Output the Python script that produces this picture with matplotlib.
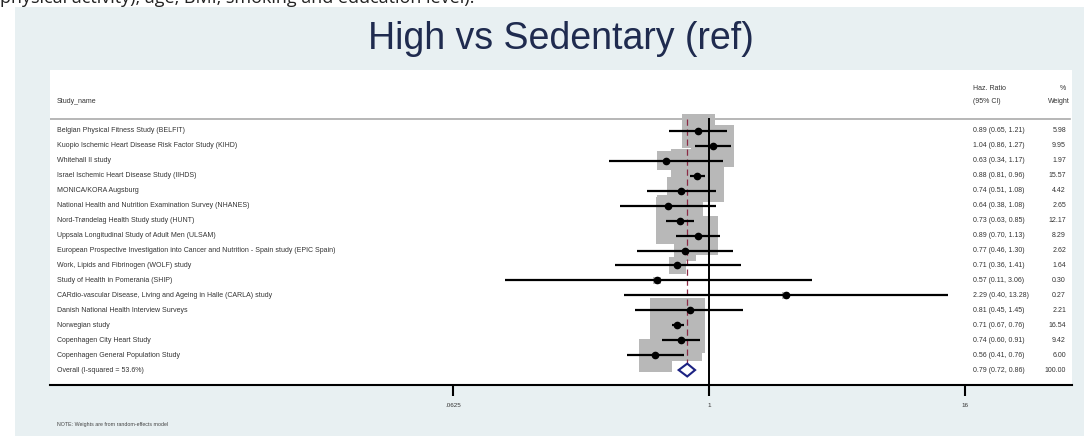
import matplotlib
matplotlib.use("Agg")
import matplotlib.pyplot as plt
from matplotlib.patches import Rectangle, Polygon
from matplotlib.ticker import FixedLocator, FixedFormatter

plt.rcParams['font.family'] = ['Liberation Sans', 'DejaVu Sans']

# ---------------- data ----------------
study_names = [
    "Belgian Physical Fitness Study (BELFIT)",
    "Kuopio Ischemic Heart Disease Risk Factor Study (KIHD)",
    "Whitehall II study",
    "Israel Ischemic Heart Disease Study (IIHDS)",
    "MONICA/KORA Augsburg",
    "National Health and Nutrition Examination Survey (NHANES)",
    "Nord-Trøndelag Health Study study (HUNT)",
    "Uppsala Longitudinal Study of Adult Men (ULSAM)",
    "European Prospective Investigation into Cancer and Nutrition - Spain study (EPIC Spain)",
    "Work, Lipids and Fibrinogen (WOLF) study",
    "Study of Health in Pomerania (SHIP)",
    "CARdio-vascular Disease, Living and Ageing in Halle (CARLA) study",
    "Danish National Health Interview Surveys",
    "Norwegian study",
    "Copenhagen City Heart Study",
    "Copenhagen General Population Study",
]
hr = [0.89, 1.04, 0.63, 0.88, 0.74, 0.64, 0.73, 0.89, 0.77, 0.71, 0.57, 2.29, 0.81, 0.71, 0.74, 0.56]
ci_lo = [0.65, 0.86, 0.34, 0.81, 0.51, 0.38, 0.63, 0.70, 0.46, 0.36, 0.11, 0.40, 0.45, 0.67, 0.60, 0.41]
ci_hi = [1.21, 1.27, 1.17, 0.96, 1.08, 1.08, 0.85, 1.13, 1.30, 1.41, 3.06, 13.28, 1.45, 0.76, 0.91, 0.76]
weights = [5.98, 9.95, 1.97, 15.57, 4.42, 2.65, 12.17, 8.29, 2.62, 1.64, 0.30, 0.27, 2.21, 16.54, 9.42, 6.00]

overall_label = "Overall (I-squared = 53.6%)"
overall_hr = 0.79
overall_lo = 0.72
overall_hi = 0.86
overall_weight = 100.00

tick_values = [0.0625, 1, 16]
tick_labels = [".0625", "1", "16"]

title = "High vs Sedentary (ref)"
top_caption = "physical activity), age, BMI, smoking and education level)."
note = "NOTE: Weights are from random-effects model"

# ---------------- figure ----------------
W, H = 1084, 436
fig = plt.figure(figsize=(W / 100, H / 100), dpi=100)
fig.patch.set_facecolor("white")

panel_col = "#e8f0f2"
fig.patches.append(Rectangle((15 / W, 0), 1 - 15 / W, (H - 7) / H,
                             transform=fig.transFigure, facecolor=panel_col,
                             edgecolor="none", zorder=-10))

fig.text(0.0, 1 - 3 / H, top_caption, fontsize=13, family=['Open Sans', 'DejaVu Sans'],
         color="#222222", ha="left", va="baseline", zorder=-5)

fig.text(561 / W, 1 - 49 / H, title, fontsize=27, color="#1f2b4f",
         ha="center", va="baseline")

# axes region: x 50..1072 px, y 70..385 px
x0, x1, y0, y1 = 50, 1072, 70, 385
ax = fig.add_axes([x0 / W, (H - y1) / H, (x1 - x0) / W, (y1 - y0) / H])
ax.set_zorder(1)
ax.set_facecolor("white")
ax.set_xscale("log", base=2)
px_per_l2 = 64.0
x_one = 709.0
ax.set_xlim(2 ** ((x0 - x_one) / px_per_l2), 2 ** ((x1 - x_one) / px_per_l2))
row0, row_h = 131.0, 14.94
ax.set_ylim((y1 - row0) / row_h, (y0 - row0) / row_h)

for s in ["top", "left", "right"]:
    ax.spines[s].set_visible(False)
ax.spines["bottom"].set_linewidth(1.5)
ax.spines["bottom"].set_color("black")
ax.yaxis.set_visible(False)
ax.xaxis.set_major_locator(FixedLocator(tick_values))
ax.xaxis.set_major_formatter(FixedFormatter(tick_labels))
ax.xaxis.set_minor_locator(FixedLocator([]))
ax.tick_params(axis="x", length=8, width=1.5, color="black", pad=5,
               labelsize=4.5, labelcolor="#333333")

n = len(study_names)
rows = list(range(n))
ov_row = n

sep_row = (119.5 - row0) / row_h

# weighted boxes (area proportional to weight)
ax.scatter(hr, rows, s=[94.5 * w for w in weights], marker="s",
           color="#b8b8b8", edgecolors="none", zorder=2)

# null line
ax.plot([1, 1], [sep_row, (y1 - row0) / row_h], color="black", lw=1.4,
        zorder=3, clip_on=False)

# overall dashed line
ax.plot([overall_hr, overall_hr], [sep_row, ov_row - 0.45], color="#8b2a45",
        lw=0.9, ls=(0, (5, 3)), zorder=3)

# CIs and points
for r, h, lo, hi in zip(rows, hr, ci_lo, ci_hi):
    ax.plot([lo, hi], [r, r], color="black", lw=1.6, solid_capstyle="butt", zorder=4)
ax.plot(hr, rows, "o", color="black", ms=4.5, zorder=5)

# overall diamond
dh = 0.43
ax.add_patch(Polygon([(overall_lo, ov_row), (overall_hr, ov_row - dh),
                      (overall_hi, ov_row), (overall_hr, ov_row + dh)],
                     closed=True, facecolor="white", edgecolor="#1c2283",
                     lw=1.5, zorder=5))

# separator
ax.plot([0, (1070 - x0) / (x1 - x0)], [sep_row, sep_row], color="#aaaaaa", lw=1.2,
        transform=ax.get_yaxis_transform(), zorder=1)

# text columns
yt = ax.get_yaxis_transform()
fs = 5.0
tc = "#333333"
name_x = (57 - x0) / (x1 - x0)
est_x = (973 - x0) / (x1 - x0)
wt_x = (1066 - x0) / (x1 - x0)

ax.text(name_x, -2.0, "Study_name", transform=yt, fontsize=fs, color=tc, va="center", ha="left")
ax.text(est_x, -2.85, "Haz. Ratio", transform=yt, fontsize=fs, color=tc, va="center", ha="left")
ax.text(est_x, -2.0, "(95% CI)", transform=yt, fontsize=fs, color=tc, va="center", ha="left")
ax.text(wt_x, -2.85, "%", transform=yt, fontsize=fs, color=tc, va="center", ha="right")
ax.text((1070 - x0) / (x1 - x0), -2.0, "Weight", transform=yt, fontsize=fs, color=tc,
        va="center", ha="right")

all_names = study_names + [overall_label]
all_hr = hr + [overall_hr]
all_lo = ci_lo + [overall_lo]
all_hi = ci_hi + [overall_hi]
all_w = weights + [overall_weight]
for r, (nm, h, lo, hi, w) in enumerate(zip(all_names, all_hr, all_lo, all_hi, all_w)):
    ax.text(name_x, r, nm, transform=yt, fontsize=fs, color=tc, va="center", ha="left")
    ax.text(est_x, r, f"{h:.2f} ({lo:.2f}, {hi:.2f})", transform=yt, fontsize=fs,
            color=tc, va="center", ha="left")
    ax.text(wt_x, r, f"{w:.2f}", transform=yt, fontsize=fs, color=tc, va="center", ha="right")

fig.text(57 / W, 1 - 424 / H, note, fontsize=3.8, color="#444444", ha="left", va="center")

fig.savefig("out.png", dpi=100, facecolor=fig.get_facecolor())
